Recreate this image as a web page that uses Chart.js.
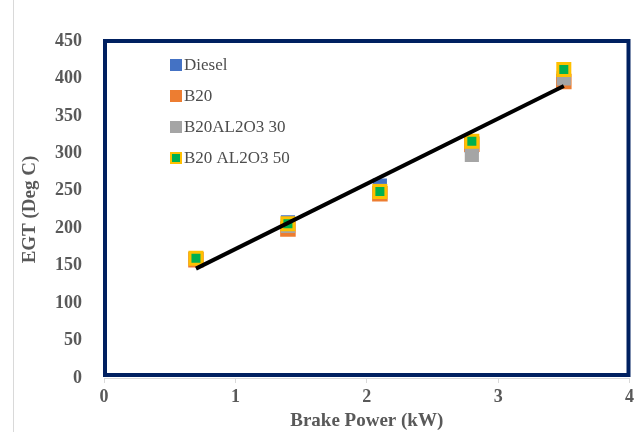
<!DOCTYPE html>
<html>
<head>
<meta charset="utf-8">
<script src="https://cdn.jsdelivr.net/npm/chart.js@4.4.0/dist/chart.umd.min.js"></script>
<style>
  html, body { margin: 0; padding: 0; background: #fff; }
  #wrap { width: 638px; height: 432px; position: relative; }
</style>
</head>
<body>
<div id="wrap"><canvas id="egtChart" width="638" height="432"></canvas></div>
<script>
// brake power (kW)
const power = [0.7, 1.4, 2.1, 2.8, 3.5];
// exhaust gas temperature (Deg C)
const diesel = [160, 208, 257, 310, 400];
const b20 = [158, 199, 246, 312, 396];
const b20al30 = [160, 203, 250, 298, 400];
const b20al50 = [160, 206, 249, 316, 412];
// linear trend
const trendX = [0.7, 3.5];
const trendY = [146, 390];

const xTicks = [0, 1, 2, 3, 4];
const yMax = 450;

function pts(xs, ys) {
  return xs.map((x, i) => ({ x: x, y: ys[i] }));
}

const serif = "'Liberation Serif', 'Times New Roman', serif";
const grey = '#595959';

// navy frame round plot area + thin grey outer edge
const framePlugin = {
  id: 'frame',
  afterDatasetsDraw(chart) {
    const a = chart.chartArea;
    const ctx = chart.ctx;
    ctx.save();
    ctx.strokeStyle = '#002060';
    ctx.lineWidth = 4;
    ctx.strokeRect(a.left + 1, a.top, a.right - a.left - 2, a.bottom - a.top - 3);
    ctx.strokeStyle = '#d9d9d9';
    ctx.lineWidth = 1;
    ctx.beginPath();
    ctx.moveTo(13.5, 0);
    ctx.lineTo(13.5, 432);
    ctx.stroke();
    ctx.restore();
  }
};

// legend drawn inside the plot
const legendPlugin = {
  id: 'innerLegend',
  afterDraw(chart) {
    const ctx = chart.ctx;
    ctx.save();
    ctx.font = '17px ' + serif;
    ctx.textBaseline = 'middle';
    let y = 65;
    chart.data.datasets.forEach(ds => {
      if (ds.isTrend) return;
      const bw = ds.legendBorder || 0;
      ctx.fillStyle = ds.borderColor;
      ctx.fillRect(170, y - 6, 12, 12);
      ctx.fillStyle = ds.backgroundColor;
      ctx.fillRect(170 + bw, y - 6 + bw, 12 - 2 * bw, 12 - 2 * bw);
      ctx.fillStyle = '#4d4d4d';
      ctx.fillText(ds.label, 184, y + 1);
      y += 31;
    });
    ctx.restore();
  }
};

new Chart(document.getElementById('egtChart'), {
  type: 'scatter',
  data: {
    datasets: [
      { label: 'Trend', isTrend: true, type: 'line', data: pts(trendX, trendY),
        borderColor: '#000', borderWidth: 4, pointRadius: 0, order: 0 },
      { label: 'Diesel', data: pts(power, diesel), pointStyle: 'rect', pointRadius: 10,
        backgroundColor: '#4472C4', borderColor: '#4472C4', borderWidth: 0, order: 4 },
      { label: 'B20', data: pts(power, b20), pointStyle: 'rect', pointRadius: 11,
        backgroundColor: '#ED7D31', borderColor: '#ED7D31', borderWidth: 0, order: 3 },
      { label: 'B20AL2O3 30', data: pts(power, b20al30), pointStyle: 'rect', pointRadius: 10,
        backgroundColor: '#A5A5A5', borderColor: '#A5A5A5', borderWidth: 0, order: 2 },
      { label: 'B20 AL2O3 50', data: pts(power, b20al50), pointStyle: 'rect', pointRadius: 8.5,
        backgroundColor: '#00B050', borderColor: '#FFC000', borderWidth: 3, legendBorder: 2, order: 1 }
    ]
  },
  options: {
    responsive: false,
    animation: false,
    layout: { autoPadding: false, padding: { left: 13, right: 8, top: 41, bottom: 0 } },
    plugins: { legend: { display: false }, tooltip: { enabled: false } },
    scales: {
      x: {
        type: 'linear', min: 0, max: 4,
        afterBuildTicks: ax => { ax.ticks = xTicks.map(v => ({ value: v })); },
        afterFit: ax => { ax.height = 54; },
        grid: { drawOnChartArea: false, drawTicks: true, tickLength: 5, color: '#d9d9d9' },
        border: { display: true, color: '#d9d9d9' },
        ticks: { color: grey, font: { family: serif, size: 18, weight: 'bold' }, padding: 4 },
        title: { display: true, text: 'Brake Power (kW)', color: grey,
          font: { family: serif, size: 19, weight: 'bold' }, padding: { top: 0, bottom: 0 } }
      },
      y: {
        min: 0, max: yMax,
        ticks: { stepSize: 50, color: grey, font: { family: serif, size: 18, weight: 'bold' }, padding: 14 },
        afterFit: ax => { ax.width = 91; },
        grid: { display: false },
        border: { display: false },
        title: { display: true, text: 'EGT (Deg C)', color: grey,
          font: { family: serif, size: 19, weight: 'bold' }, padding: { top: 6, bottom: 0 } }
      }
    }
  },
  plugins: [framePlugin, legendPlugin]
});
</script>
</body>
</html>
